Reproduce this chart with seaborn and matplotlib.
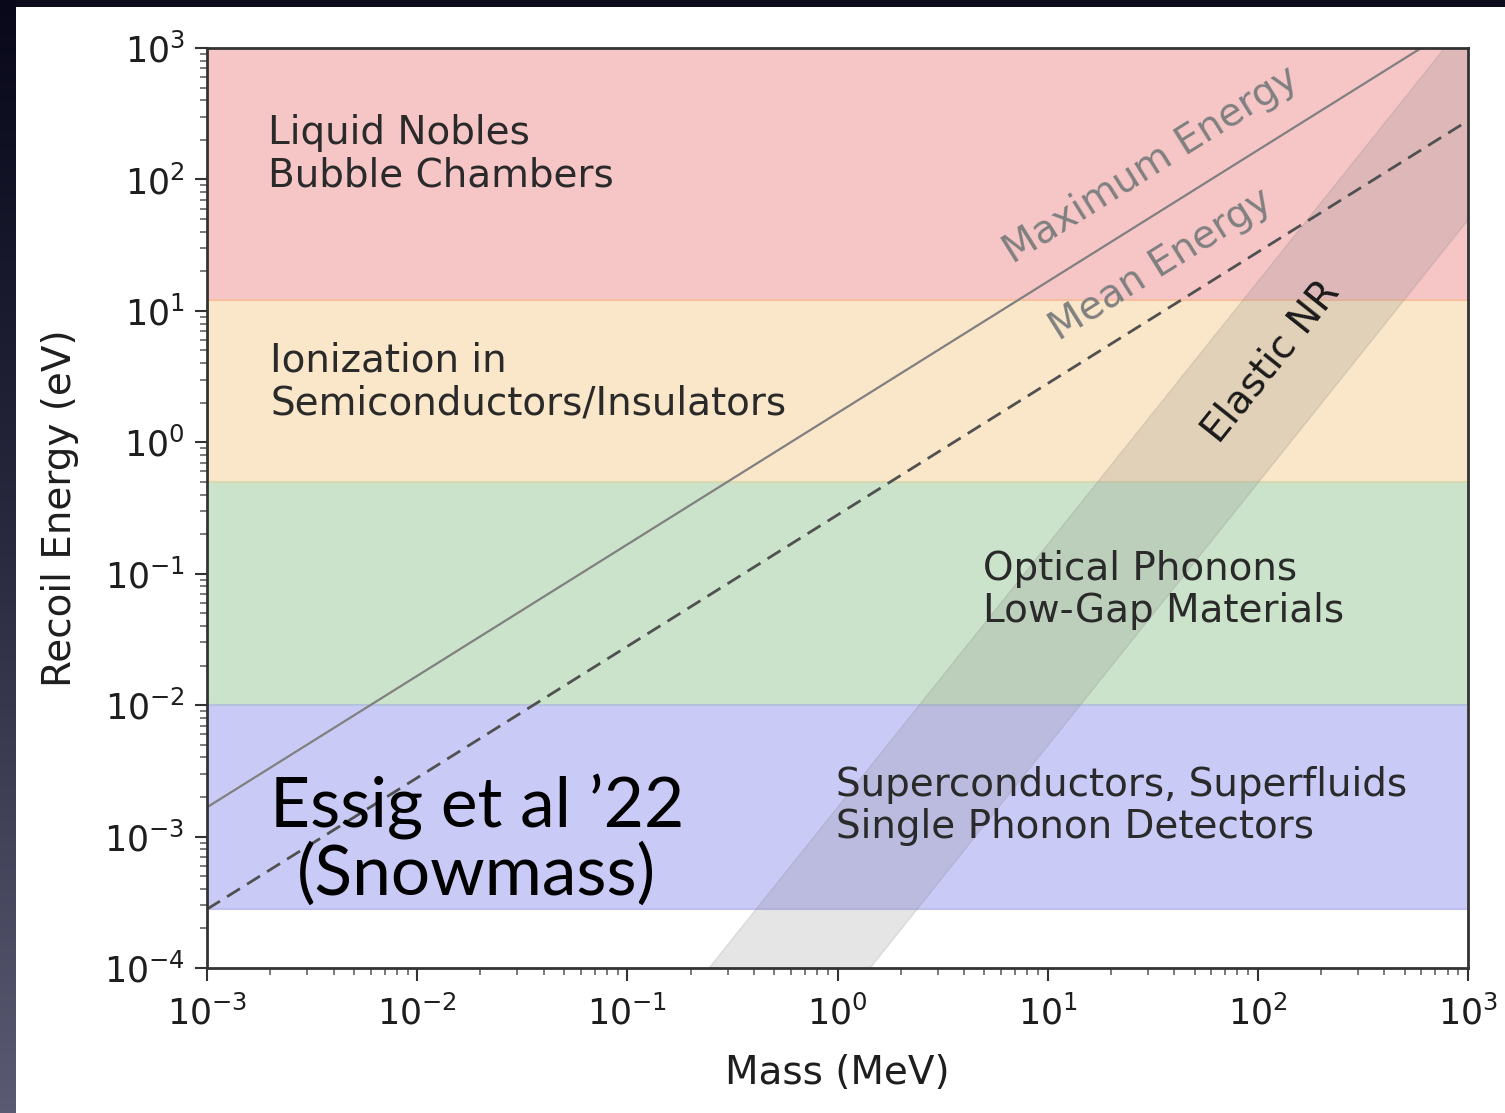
import numpy as np
import matplotlib
matplotlib.use("Agg")
import matplotlib.pyplot as plt
import seaborn as sns
from matplotlib.patches import Rectangle

# detector bands in recoil energy (eV), bottom to top
band_names = ["Superconductors, Superfluids\nSingle Phonon Detectors",
              "Optical Phonons\nLow-Gap Materials",
              "Ionization in\nSemiconductors/Insulators",
              "Liquid Nobles\nBubble Chambers"]
band_low = [2.8e-4, 1e-2, 0.5, 12]
band_high = [1e-2, 0.5, 12, 1e3]
band_colors = ["#cacaf7", "#cbe3ca", "#fae6c8", "#f6c6c7"]
band_lines = ["#c0c0f0", "#b5c2dc", "#d8d9b0", "#f7bfa0"]
# label anchor (axes fraction, left / centre)
label_x = [0.499, 0.615, 0.050, 0.048]
label_y = [0.176, 0.411, 0.637, 0.884]

# kinematic lines, energy (eV) vs mass (MeV)
line_mass = [1e-3, 1e3]
max_energy = [1.67e-3, 1.67e3]
mean_energy = [2.8e-4, 2.8e2]

# elastic nuclear recoil band edges
nr_mass_left = [0.245, 1e3]
nr_energy_left = [1e-4, 1.67e3]
nr_mass_right = [1.43, 1e3]
nr_energy_right = [1e-4, 49]

W, H = 1505, 1113
sns.set_style("ticks")
plt.rcParams['font.family'] = ['DejaVu Sans']

fig = plt.figure(figsize=(W / 100, H / 100), dpi=100)
fig.patch.set_facecolor("#0c0c1c")

# slide background: gradient strip on the left, white card
ramp = matplotlib.colors.LinearSegmentedColormap.from_list(
    "slide", ["#5a5a72", "#2a2a40", "#08081a"])
strip = ramp(np.linspace(0, 1, H))[:, None, :3] * np.ones((1, 16, 1))
fig.figimage(strip, xo=0, yo=0, origin="lower", zorder=-10)
fig.add_artist(Rectangle((16 / W, 0), 1, (H - 7) / H, transform=fig.transFigure,
                         facecolor="white", edgecolor="none", zorder=-5))

ax = fig.add_axes([207 / W, (H - 968) / H, (1468 - 207) / W, (968 - 48) / H])
ax.set_xscale("log")
ax.set_yscale("log")
ax.set_xlim(1e-3, 1e3)
ax.set_ylim(1e-4, 1e3)

for lo, hi, c, lc in zip(band_low, band_high, band_colors, band_lines):
    ax.axhspan(lo, hi, color=c, lw=0, zorder=1)
    ax.axhline(lo, color=lc, lw=1.5, zorder=1.5)

for name, x, y in zip(band_names, label_x, label_y):
    ax.text(x, y, name, transform=ax.transAxes, ha="left", va="center",
            fontsize=28, color="#2a2a2a", linespacing=1.15, zorder=5)

# elastic NR band
ax.fill(nr_mass_left + nr_mass_right[::-1], nr_energy_left + nr_energy_right[::-1],
        facecolor="gray", edgecolor="gray", lw=1, alpha=0.2, zorder=2)

sns.lineplot(x=line_mass, y=max_energy, ax=ax, color="#808080", lw=1.6, zorder=3)
sns.lineplot(x=line_mass, y=mean_energy, ax=ax, color="#505050", lw=2,
             linestyle=(0, (5.5, 3)), zorder=3)

def slope_angle(p, q):
    a = ax.transData.transform(p)
    b = ax.transData.transform(q)
    return np.degrees(np.arctan2(b[1] - a[1], b[0] - a[0]))

ang1 = slope_angle((1e-3, 1e-3), (1, 1))
ang2 = slope_angle((1, 1e-4), (10, 1e-2))
ax.text(31, 129, "Maximum Energy", rotation=ang1, rotation_mode="anchor",
        ha="center", va="center", fontsize=28, color="#808080", zorder=4)
ax.text(34.5, 22.4, "Mean Energy", rotation=ang1, rotation_mode="anchor",
        ha="center", va="center", fontsize=28, color="#808080", zorder=4)
ax.text(115, 4.1, "Elastic NR", rotation=ang2, rotation_mode="anchor",
        ha="center", va="center", fontsize=28, color="#1a1a1a", zorder=4)

ax.text(0.214, 0.139, "Essig et al \u201922\n(Snowmass)", transform=ax.transAxes,
        ha="center", va="center", fontsize=50, family=["Lato", "DejaVu Sans"],
        color="black", linespacing=1.05, zorder=6)

for s in ax.spines.values():
    s.set_color("#333333")
    s.set_linewidth(2)
    s.set_zorder(7)
ax.tick_params(which="major", length=9, width=1.5, labelsize=25, color="#333333",
               labelcolor="#1e1e1e")
ax.tick_params(axis="x", which="major", pad=11)
ax.tick_params(axis="y", which="major", pad=7)
ax.tick_params(which="minor", length=5, width=1.1, color="#555555")
ax.set_xlabel("Mass (MeV)", fontsize=28, color="#1e1e1e", labelpad=16)
ax.set_ylabel("Recoil Energy (eV)", fontsize=28, color="#1e1e1e", labelpad=18)

fig.savefig("out.png", dpi=100, facecolor=fig.get_facecolor())
